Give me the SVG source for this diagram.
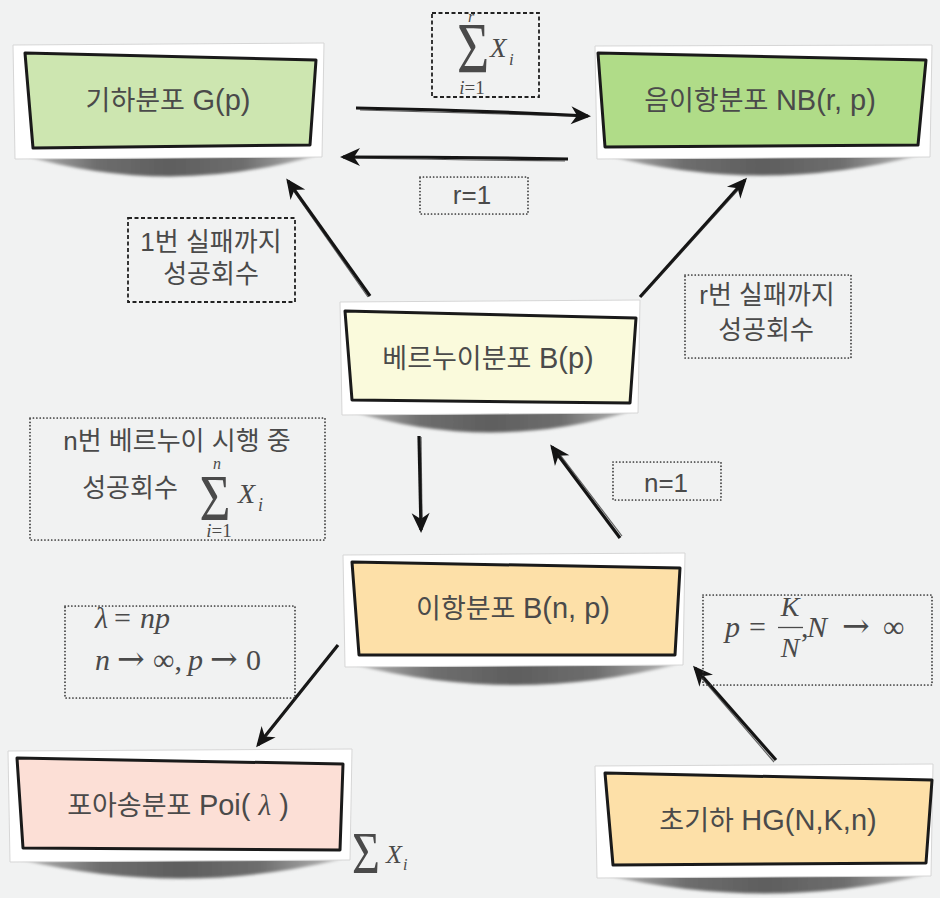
<svg xmlns="http://www.w3.org/2000/svg" width="940" height="898" viewBox="0 0 940 898">
<defs>
<style>
.frame{fill:#ffffff;stroke:#d6d6d6;stroke-width:1}
.inner{stroke:#1a1a1a;stroke-width:3;stroke-linejoin:round}
.shadow{fill:url(#shg);filter:url(#blur)}
.nt{font-family:"Liberation Sans","Noto Sans CJK KR",sans-serif;font-size:27px;fill:#4a4a4a;text-anchor:middle}
.lat{font-size:29px}
.lt{font-family:"Liberation Sans","Noto Sans CJK KR",sans-serif;font-size:26px;fill:#4a4a4a;text-anchor:middle}
.m{font-family:"Liberation Serif","DejaVu Serif",serif;fill:#4a4a4a}
.it{font-style:italic}
.ar{font-family:"DejaVu Serif",serif;font-size:33px}
.dash{fill:none;stroke:#222;stroke-width:1.8;stroke-dasharray:4 2.5}
.dot{fill:none;stroke:#333;stroke-width:1.7;stroke-dasharray:0.1 3.3;stroke-linecap:round}
.arr{fill:none;stroke:#141414;stroke-width:3.2;stroke-linecap:butt;marker-end:url(#ah)}
.arr2{fill:none;stroke:#222;stroke-width:1.2;opacity:.7}
</style>
<linearGradient id="shg" x1="0" y1="0" x2="1" y2="0">
<stop offset="0" stop-color="#bcbcbc"/>
<stop offset="0.25" stop-color="#6e6e6e"/>
<stop offset="0.5" stop-color="#5e5e5e"/>
<stop offset="0.75" stop-color="#6e6e6e"/>
<stop offset="1" stop-color="#bcbcbc"/>
</linearGradient>
<filter id="blur" x="-5%" y="-50%" width="110%" height="200%"><feGaussianBlur stdDeviation="1.5"/></filter>
<marker id="ah" viewBox="-20 -11 24 22" refX="0" refY="0" markerWidth="24" markerHeight="22" markerUnits="userSpaceOnUse" orient="auto">
<path d="M3,0 L-17,-9 L-11,0 L-17,9 Z" fill="#141414"/>
</marker>
</defs>
<rect width="940" height="898" fill="#f1f2f2"/>

<g id="node-geometric">
<path class="shadow" d="M22,155 Q170,198 318,155 Z"/>
<polygon class="frame" points="13,45 324,43 322,157 15,159"/>
<polygon class="inner" fill="#cde6b0" points="25,53 316,60 310,145 33,148"/>
<text class="nt" x="168" y="110">기하분포 <tspan class="lat">G(p)</tspan></text>
</g>

<g id="node-negbinom">
<path class="shadow" d="M605,155 Q762,196 920,155 Z"/>
<polygon class="frame" points="595,46 932,45 930,157 597,159"/>
<polygon class="inner" fill="#b0dc88" points="598,53 926,60 918,145 605,147"/>
<text class="nt" x="760" y="110">음이항분포 <tspan class="lat">NB(r, p)</tspan></text>
</g>

<g id="node-bernoulli">
<path class="shadow" d="M350,411 Q490,454 632,411 Z"/>
<polygon class="frame" points="340,302 640,300 638,413 342,415"/>
<polygon class="inner" fill="#fafadc" points="345,311 636,318 630,403 352,400"/>
<text class="nt" x="488" y="368">베르누이분포 <tspan class="lat">B(p)</tspan></text>
</g>

<g id="node-binom">
<path class="shadow" d="M352,664 Q515,706 678,664 Z"/>
<polygon class="frame" points="343,555 685,553 683,665 345,667"/>
<polygon class="inner" fill="#fde0a8" points="352,562 680,568 675,655 359,655"/>
<text class="nt" x="513" y="618">이항분포 <tspan class="lat">B(n, p)</tspan></text>
</g>

<g id="node-poisson">
<path class="shadow" d="M18,859 Q180,898 342,859 Z"/>
<polygon class="frame" points="8,751 352,749 350,860 10,862"/>
<polygon class="inner" fill="#fcdfd6" points="17,758 343,764 340,850 23,848"/>
<text class="nt" x="178" y="815">포아송분포 <tspan class="lat">Poi( </tspan><tspan class="m it lat">λ</tspan><tspan class="lat"> )</tspan></text>
</g>

<g id="node-hypergeom">
<path class="shadow" d="M605,875 Q765,912 925,875 Z"/>
<polygon class="frame" points="595,766 933,764 931,876 597,878"/>
<polygon class="inner" fill="#fde0a8" points="605,773 932,780 926,863 613,865"/>
<text class="nt" x="768" y="830">초기하 <tspan class="lat">HG(N,K,n)</tspan></text>
</g>

<g id="connectors">
<path class="arr" d="M356,108 Q470,110 588,116"/>
<path class="arr2" d="M360,110 Q470,113 575,116"/>
<path class="arr" d="M568,159 Q455,157 343,157"/>
<path class="arr2" d="M565,161 Q455,160 355,158"/>
<path class="arr" d="M370,296 L288,181"/>
<path class="arr2" d="M368,297 L293,190"/>
<path class="arr" d="M640,297 L745,180"/>
<path class="arr2" d="M642,296 L738,190"/>
<path class="arr" d="M419,436 L421,530"/>
<path class="arr2" d="M421,437 L422,520"/>
<path class="arr" d="M620,538 L552,447"/>
<path class="arr2" d="M622,536 L558,452"/>
<path class="arr" d="M338,645 L258,745"/>
<path class="arr2" d="M336,648 L265,737"/>
<path class="arr" d="M776,760 L695,668"/>
<path class="arr2" d="M774,762 L700,676"/>
</g>

<g id="labels">
<g id="lbl-sum-r">
<rect class="dash" x="432" y="13" width="107" height="84"/>
<text class="m it" x="471" y="22" font-size="16" text-anchor="middle">r</text>
<text class="m" transform="translate(473,72) scale(0.78,1)" font-size="71" text-anchor="middle">Σ</text>
<text class="m" x="472" y="94" font-size="19" text-anchor="middle"><tspan class="it">i</tspan>=1</text>
<text class="m it" x="490" y="57" font-size="27">X</text>
<text class="m it" x="509" y="65" font-size="17">i</text>
</g>
<g id="lbl-r1">
<rect class="dot" x="420" y="177" width="108" height="37"/>
<text class="lt" x="472" y="204" font-size="24">r=1</text>
</g>
<g id="lbl-geo">
<rect class="dash" x="128" y="218" width="167" height="84"/>
<text class="lt" x="211" y="251">1번 실패까지</text>
<text class="lt" x="211" y="283">성공회수</text>
</g>
<g id="lbl-nb">
<rect class="dot" x="685" y="275" width="166" height="83"/>
<text class="lt" x="767" y="304">r번 실패까지</text>
<text class="lt" x="766" y="339">성공회수</text>
</g>
<g id="lbl-binom">
<rect class="dot" x="30" y="418" width="295" height="122"/>
<text class="lt" x="177" y="450">n번 베르누이 시행 중</text>
<text class="lt" x="130" y="497">성공회수</text>
<text class="m it" x="217" y="469" font-size="16" text-anchor="middle">n</text>
<text class="m" transform="translate(215,520) scale(0.82,1)" font-size="65" text-anchor="middle">Σ</text>
<text class="m" x="219" y="537" font-size="19" text-anchor="middle"><tspan class="it">i</tspan>=1</text>
<text class="m it" x="238" y="503" font-size="28">X</text>
<text class="m it" x="258" y="511" font-size="18">i</text>
</g>
<g id="lbl-n1">
<rect class="dot" x="613" y="462" width="108" height="38"/>
<text class="lt" x="666" y="492" font-size="24">n=1</text>
</g>
<g id="lbl-poisson">
<rect class="dot" x="65" y="606" width="230" height="92"/>
<text class="m" y="628" font-size="30"><tspan class="it" x="95">λ</tspan><tspan x="114">=</tspan><tspan class="it" x="140">np</tspan></text>
<text class="m" y="670" font-size="30"><tspan class="it" x="95">n</tspan><tspan class="ar" x="117">→</tspan><tspan x="153">∞,</tspan><tspan class="it" x="188">p</tspan><tspan class="ar" x="210">→</tspan><tspan x="246">0</tspan></text>
</g>
<g id="lbl-hg">
<rect class="dot" x="703" y="595" width="229" height="90"/>
<text class="m" y="637" font-size="30"><tspan class="it" x="725">p</tspan><tspan x="749">=</tspan></text>
<text class="m it" x="790" y="616" font-size="28" text-anchor="middle">K</text>
<line x1="778" y1="627.5" x2="803" y2="627.5" stroke="#4a4a4a" stroke-width="1.3"/>
<text class="m it" x="790" y="657" font-size="28" text-anchor="middle">N</text>
<text class="m" y="637" font-size="30"><tspan x="801">,</tspan><tspan class="it" x="807">N</tspan><tspan class="ar" x="842">→</tspan><tspan x="883">∞</tspan></text>
</g>
<g id="lbl-sum">
<text class="m" transform="translate(366,873) scale(0.8,1)" font-size="60" text-anchor="middle">Σ</text>
<text class="m it" x="386" y="863" font-size="26">X</text>
<text class="m it" x="403" y="870" font-size="16">i</text>
</g>
</g>
</svg>
